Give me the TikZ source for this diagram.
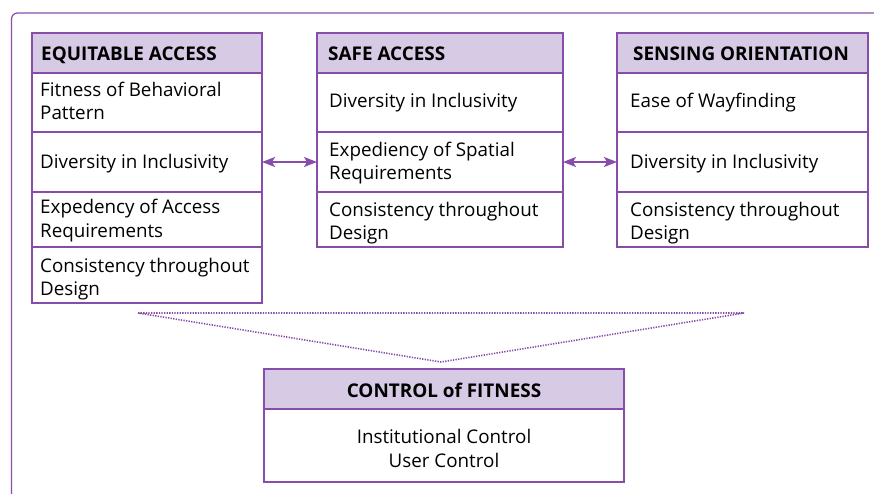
\documentclass[tikz,border=0pt]{standalone}
\usepackage{fontspec}
\setmainfont{Open Sans}
\usetikzlibrary{arrows.meta}
\definecolor{plum}{RGB}{134,78,170}
\definecolor{lilac}{RGB}{214,202,228}
\tikzset{
  cell/.style={draw=plum, line width=1.4pt, rectangle, inner sep=0pt, outer sep=0pt, anchor=north west, fill=white},
  headcell/.style={cell, fill=lilac},
  head/.style={font=\fontsize{18.9}{22}\selectfont\bfseries, anchor=base west, inner sep=0pt, text=black},
  body/.style={font=\fontsize{18.8}{23.5}\selectfont, anchor=base west, inner sep=0pt, text=black},
  link/.style={draw=plum, line width=1.6pt, {Stealth[length=13pt,width=10pt,inset=3pt]}-{Stealth[length=13pt,width=10pt,inset=3pt]}},
  funnel/.style={draw=plum, line width=1.6pt, dash pattern=on 1.3pt off 1.3pt}
}
\begin{document}
\begin{tikzpicture}[x=1pt,y=-1pt]
\useasboundingbox (0,0) rectangle (874,494);
% outer frame
\draw[plum, line width=1.2pt, rounded corners=6pt] (11.5,494) -- (11.5,13) -- (874,13);

% ---- Equitable access
\node[headcell, minimum width=230pt, minimum height=40pt] (a0) at (32,33) {};
\node[cell, minimum width=230pt, minimum height=59pt] (a1) at (32,73) {};
\node[cell, minimum width=230pt, minimum height=60pt] (a2) at (32,132) {};
\node[cell, minimum width=230pt, minimum height=55pt] (a3) at (32,192) {};
\node[cell, minimum width=230pt, minimum height=56pt] (a4) at (32,247) {};
\node[head] at (41,61) {EQUITABLE ACCESS};
\node[body] at (40,97) {Fitness of Behavioral};
\node[body] at (40,120) {Pattern};
\node[body] at (40,169) {Diversity in Inclusivity};
\node[body] at (40,214) {Expedency of Access};
\node[body] at (40,237) {Requirements};
\node[body] at (40,272) {Consistency throughout};
\node[body] at (40,295) {Design};

% ---- Safe access
\node[headcell, minimum width=246pt, minimum height=40pt] (b0) at (317,33) {};
\node[cell, minimum width=246pt, minimum height=59pt] (b1) at (317,73) {};
\node[cell, minimum width=246pt, minimum height=60pt] (b2) at (317,132) {};
\node[cell, minimum width=246pt, minimum height=55pt] (b3) at (317,192) {};
\node[head] at (328,61) {SAFE ACCESS};
\node[body] at (329,108) {Diversity in Inclusivity};
\node[body] at (329,157) {Expediency of Spatial};
\node[body] at (329,180) {Requirements};
\node[body] at (329,216) {Consistency throughout};
\node[body] at (329,240) {Design};

% ---- Sensing orientation
\node[headcell, minimum width=251pt, minimum height=40pt] (c0) at (617,33) {};
\node[cell, minimum width=251pt, minimum height=59pt] (c1) at (617,73) {};
\node[cell, minimum width=251pt, minimum height=60pt] (c2) at (617,132) {};
\node[cell, minimum width=251pt, minimum height=55pt] (c3) at (617,192) {};
\node[head] at (633,61) {SENSING ORIENTATION};
\node[body] at (630,108) {Ease of Wayfinding};
\node[body] at (630,169) {Diversity in Inclusivity};
\node[body] at (630,216) {Consistency throughout};
\node[body] at (630,240) {Design};

% links between the groups
\draw[link] (a2.east) -- (b2.west);
\draw[link] (b2.east) -- (c2.west);

% funnel
\coordinate (fl) at (138,313);
\coordinate (fr) at (744,313);
\coordinate (fa) at (441,362);
\draw[funnel] (fl) -- (fr) -- (fa) -- cycle;

% ---- Control of fitness
\node[headcell, minimum width=360pt, minimum height=40pt] (d0) at (264,369) {};
\node[cell, minimum width=360pt, minimum height=73pt] (d1) at (264,409) {};
\node[head, anchor=base] at (444,397) {CONTROL of FITNESS};
\node[body, anchor=base] at (444,443) {Institutional Control};
\node[body, anchor=base] at (444,467) {User Control};
\end{tikzpicture}
\end{document}
